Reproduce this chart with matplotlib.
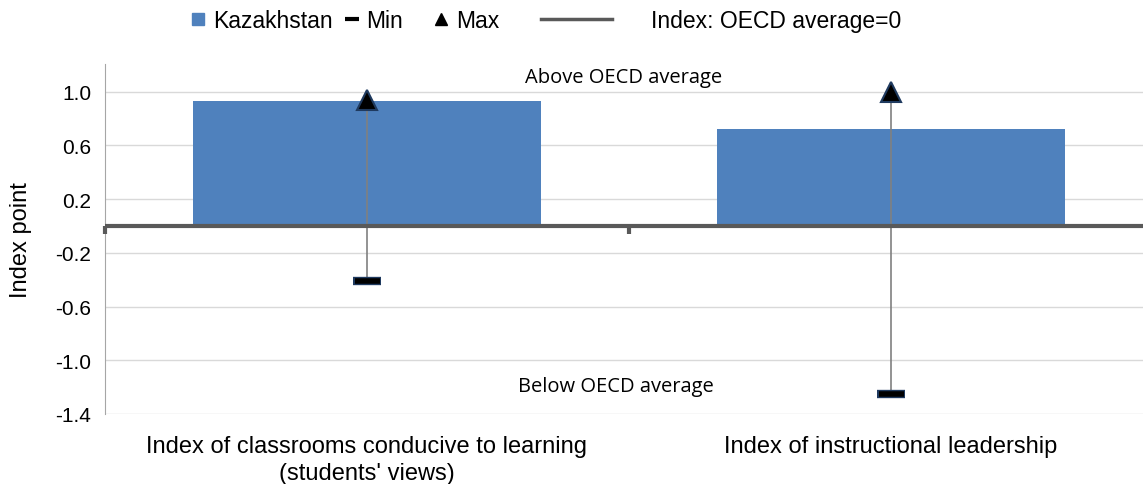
import numpy as np
import matplotlib
matplotlib.use('Agg')
import matplotlib.pyplot as plt
from matplotlib.lines import Line2D

plt.rcParams['font.family'] = ['Liberation Sans', 'DejaVu Sans']

categories = ["Index of classrooms conducive to learning\n(students' views)",
              "Index of instructional leadership"]
kazakhstan = [0.93, 0.72]
min_vals = [-0.41, -1.25]
max_vals = [0.94, 1.00]
yticks = [1.0, 0.6, 0.2, -0.2, -0.6, -1.0, -1.4]

blue = '#4f81bd'

fig = plt.figure(figsize=(11.43, 4.85), dpi=100)
ax = fig.add_axes([105 / 1143, 70 / 485, 1038 / 1143, 350 / 485])

x = np.arange(len(categories))
ax.bar(x, kazakhstan, width=0.665, color=blue, zorder=2)
ax.vlines(x, min_vals, max_vals, color='#808080', lw=1.2, zorder=3)
ax.plot(x, min_vals, ls='none', marker='_', ms=20, mew=6, color='#1f3a5f', zorder=4)
ax.plot(x, min_vals, ls='none', marker='_', ms=18, mew=4, color='black', zorder=5)
ax.plot(x, max_vals, ls='none', marker='^', ms=15, color='black', mec='#1f3a5f', mew=1.5, zorder=4)
ax.axhline(0, color='#595959', lw=3, zorder=3)
# small ticks hanging from the zero line
ax.vlines([-0.5, 0.5], -0.06, 0, color='#595959', lw=3, zorder=3, clip_on=False)

ax.set_xlim(-0.5, 1.481)
ax.set_ylim(-1.4, 1.206)
ax.set_yticks(yticks)
ax.set_yticklabels([f'{v:.1f}' for v in yticks])
ax.grid(axis='y', color='#d9d9d9', lw=1, zorder=0)
ax.set_axisbelow(True)
ax.set_xticks([])
ax.set_ylabel('Index point', fontsize=17)
ax.yaxis.set_label_coords(-0.07, 0.5)
ax.tick_params(axis='y', length=0, labelsize=15, pad=10)
for s in ['top', 'right', 'bottom']:
    ax.spines[s].set_visible(False)
ax.spines['left'].set_color('#a6a6a6')

for xi, lab in zip(x, categories):
    ax.text(xi, -1.56, lab, ha='center', va='top', fontsize=17, linespacing=1.25)

ax.text(0.49, 1.11, 'Above OECD average', ha='center', va='center', fontsize=14.5,
        family=['Open Sans', 'DejaVu Sans'])
ax.text(0.475, -1.19, 'Below OECD average', ha='center', va='center', fontsize=14.5,
        family=['Open Sans', 'DejaVu Sans'])

# legend, one entry at a time so the gaps match
entries = [
    (Line2D([], [], ls='none', marker='s', ms=9, color=blue), 'Kazakhstan', 189, 0.8, 0.25),
    (Line2D([], [], ls='none', marker='_', ms=10, mew=3, color='black'), 'Min', 343, 0.8, 0.2),
    (Line2D([], [], ls='none', marker='^', ms=9, color='black'), 'Max', 432, 0.8, 0.25),
    (Line2D([], [], color='#595959', lw=2.5), 'Index: OECD average=0', 541, 3.1, 1.7),
]
for h, lab, xpix, hl, tp in entries:
    leg = fig.legend([h], [lab], loc='center left', bbox_to_anchor=(xpix / 1143, 0.956),
                     frameon=False, fontsize=16.5, handlelength=hl, handletextpad=tp,
                     borderpad=0, borderaxespad=0)

fig.savefig('out.png', dpi=100)
